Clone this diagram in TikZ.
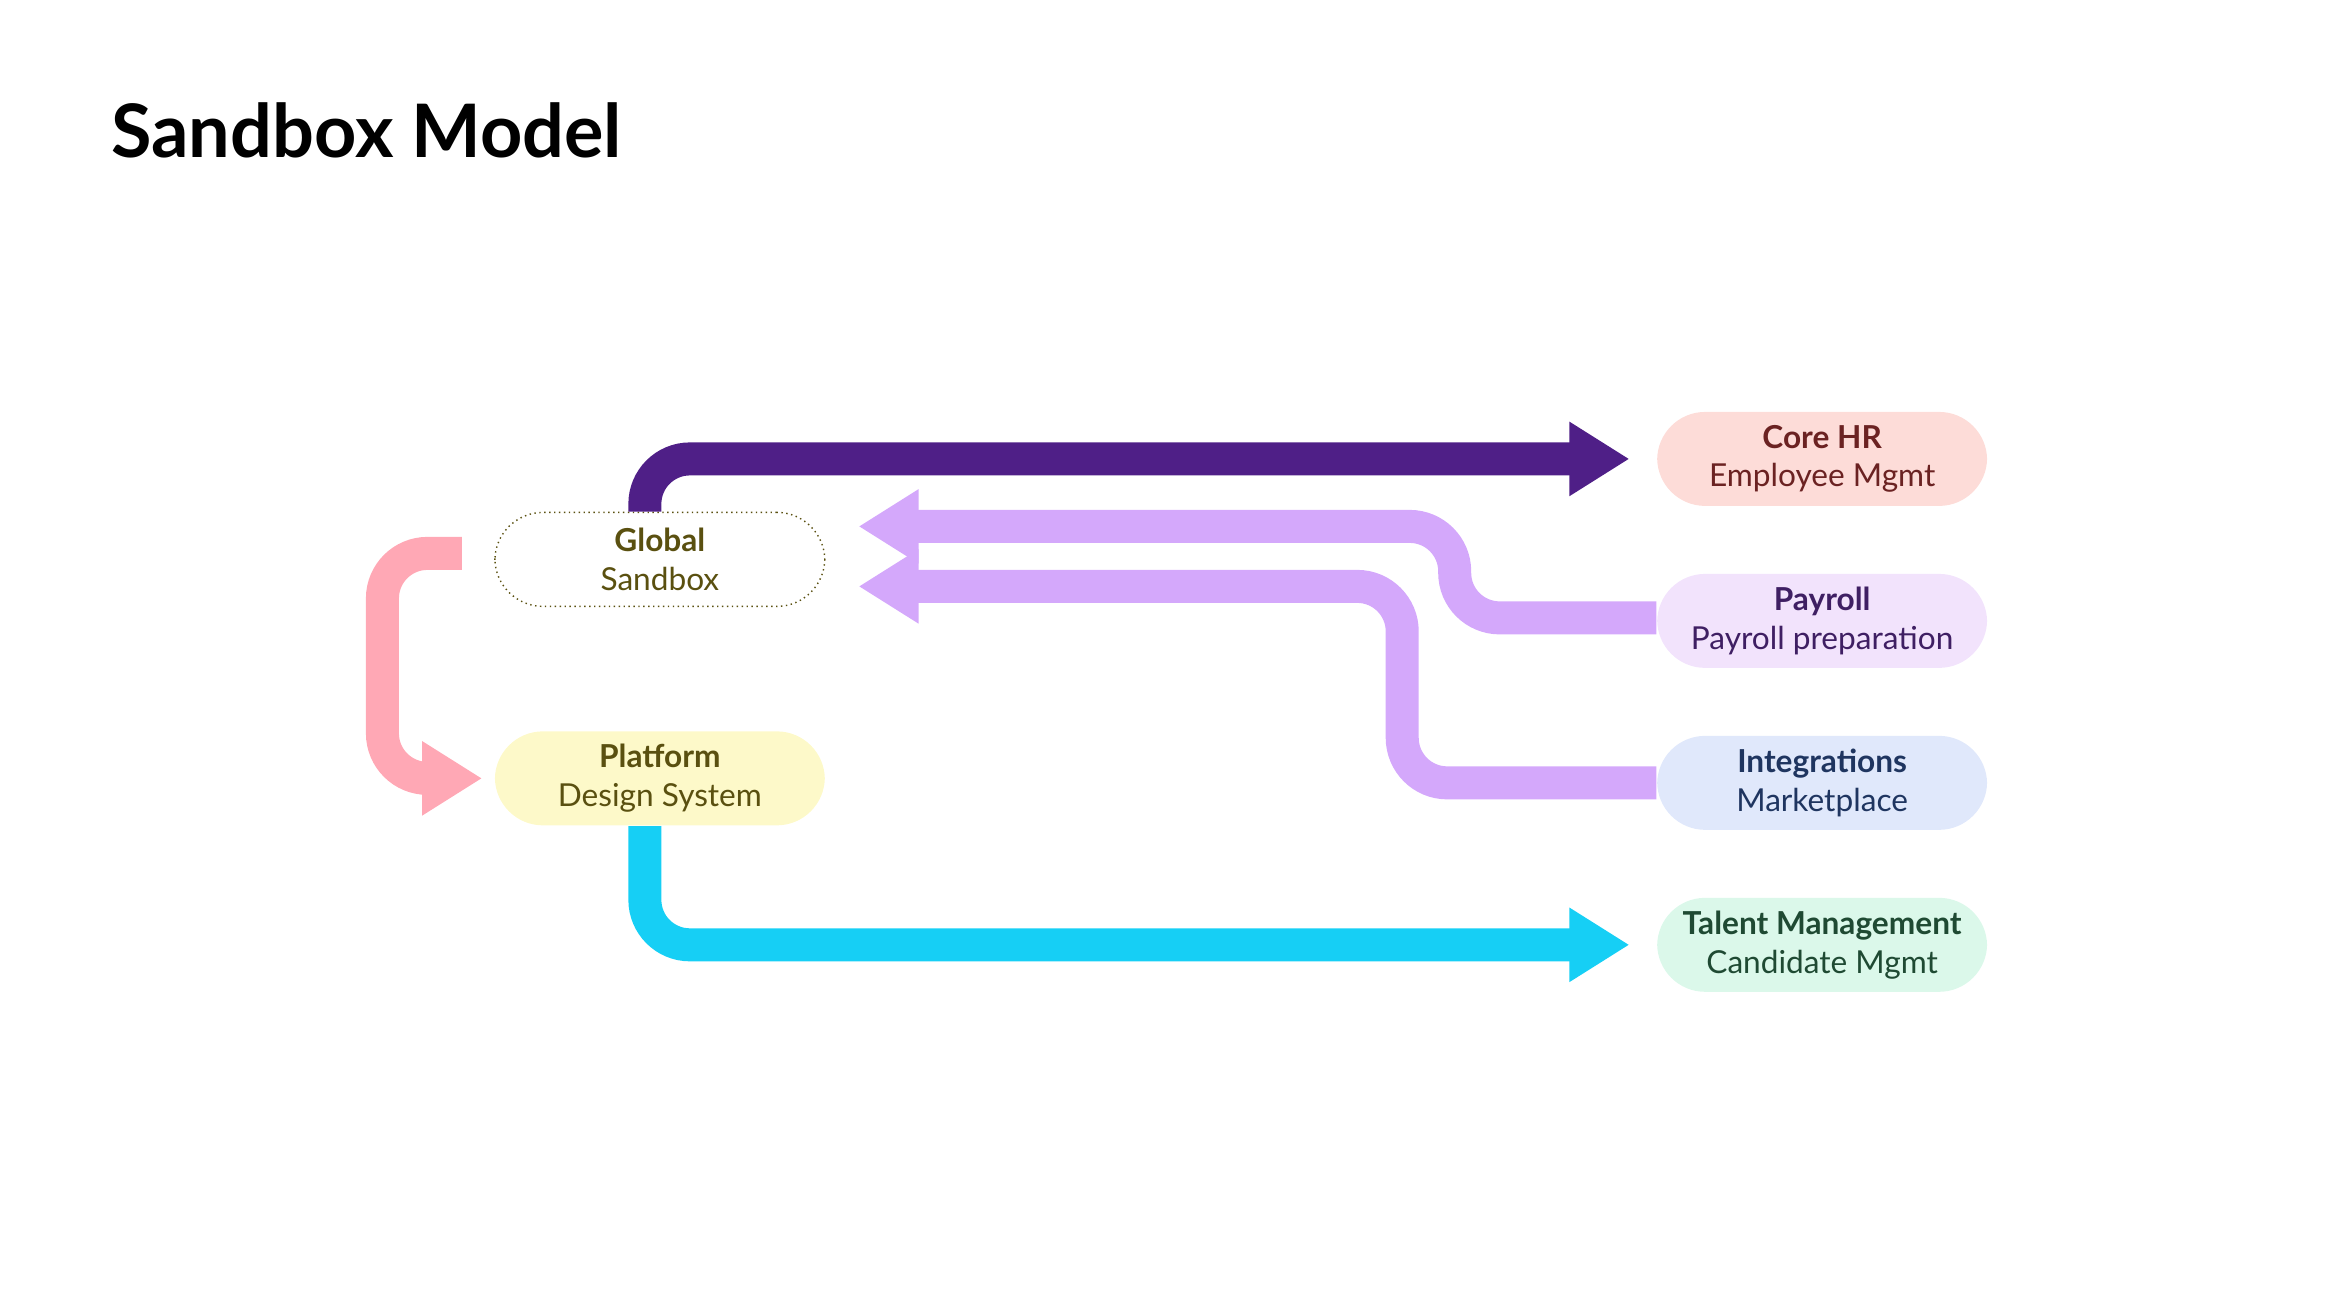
\documentclass[tikz,border=0pt]{standalone}
\usepackage{fontspec}
\setmainfont{Lato}
\usepackage{xcolor}
\usetikzlibrary{arrows.meta, positioning, calc}
\definecolor{coreFill}{HTML}{FDDCD8}
\definecolor{payFill}{HTML}{F2E3FC}
\definecolor{intFill}{HTML}{E0E8FB}
\definecolor{talFill}{HTML}{DBF8EA}
\definecolor{platFill}{HTML}{FDF9C9}
\definecolor{coreText}{HTML}{6B2222}
\definecolor{payText}{HTML}{3F1F63}
\definecolor{intText}{HTML}{1F3560}
\definecolor{talText}{HTML}{1F4A33}
\definecolor{olive}{HTML}{5A5010}
\definecolor{deepPurple}{HTML}{4F1F87}
\definecolor{lavender}{HTML}{D4A8FB}
\definecolor{pinkish}{HTML}{FFA8B5}
\definecolor{cyanish}{HTML}{16CFF5}

\begin{document}
\begin{tikzpicture}[
x=0.015cm,y=-0.015cm,
pill/.style={
    rectangle,rounded corners=0.48cm,minimum width=3.3cm,minimum height=0.94cm,align=center,font=\fontsize{9}{11}\selectfont
},
band/.style={
    line width=0.33cm,rounded corners=0.45cm,-{Triangle[length=0.6cm,width=0.7cm]}
}
]
    \useasboundingbox (0,0) rectangle (1551,872);
    \node[anchor=west,font=\fontsize{21}{25}\selectfont\bfseries] (T) at (66,87) {Sandbox Model};

    \node(G)[pill,draw=olive,densely dotted,fill=white,text=olive] at (440,373){\textbf{Global}\\Sandbox};
    \node(P)[pill,fill=platFill,text=olive] at (440,519){\textbf{Platform}\\Design System};
    \node(C)[pill,fill=coreFill,text=coreText] at (1215,306){\textbf{Core HR}\\Employee Mgmt};
    \node(Y)[pill,fill=payFill,text=payText] at (1215,414){\textbf{Payroll}\\Payroll preparation};
    \node(I)[pill,fill=intFill,text=intText] at (1215,522){\textbf{Integrations}\\Marketplace};
    \node(M)[pill,fill=talFill,text=talText] at (1215,630){\textbf{Talent Management}\\Candidate Mgmt};

    \coordinate (gs) at (308,369);
    \draw[band,deepPurple] ($(G.north)+(-10,0)$) |- ($(C.west)+(-18,0)$);
    \draw[band,pinkish] (gs) -- (255,369) |- ($(P.west)+(-8,0)$);
    \draw[band,lavender] ($(Y.west)+(0,-2)$) -- (970,412) |- ($(G.east)+(22,-22)$);
    \draw[band,lavender] (I.west) -- (935,522) |- ($(G.east)+(22,18)$);
    \draw[band,cyanish] ($(P.south)+(-10,0)$) |- ($(M.west)+(-18,0)$);
\end{tikzpicture}
\end{document}
